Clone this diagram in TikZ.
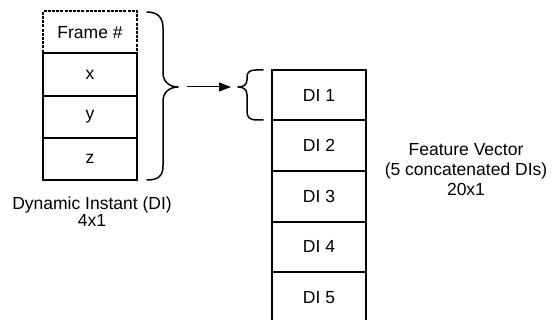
\documentclass[tikz,border=0pt]{standalone}
\usepackage{fontspec}
\setmainfont{Liberation Sans}
\usetikzlibrary{arrows.meta}
\begin{document}
\begin{tikzpicture}[x=1pt,y=-1pt,
  cell/.style={draw, line width=2pt, minimum width=94pt, inner sep=0pt, font=\fontsize{17.5}{20}\selectfont},
  lcell/.style={cell, minimum height=42.3pt},
  rcell/.style={cell, minimum height=50.5pt},
  brace/.style={draw, line width=1.5pt, line cap=round, line join=round},
  lbl/.style={align=center, inner sep=0pt, anchor=north}]
\useasboundingbox (0,0) rectangle (553,320);
% left stack
\node[lcell, dash pattern=on 3pt off 1.2pt] (frame) at (90,32.2) {Frame \#};
\node[lcell] (x) at (90,74.5) {x};
\node[lcell] (y) at (90,116.8) {y};
\node[lcell] (z) at (90,159.1) {z};
% right stack
\node[rcell] (d1) at (319,95.25) {DI 1};
\node[rcell] (d2) at (319,145.75) {DI 2};
\node[rcell] (d3) at (319,196.25) {DI 3};
\node[rcell] (d4) at (319,246.75) {DI 4};
\node[rcell] (d5) at (319,297.25) {DI 5};
% braces
\draw[brace] (147,12) .. controls (158,12) and (163,18) .. (163,28) -- (163,73)
  .. controls (163,82) and (170,87) .. (178,87)
  .. controls (170,87) and (163,92) .. (163,101) -- (163,166)
  .. controls (163,176) and (158,180) .. (147,180);
\draw[brace] (263,70) -- (256,70) .. controls (250,70) and (247,72) .. (247,77) -- (247,80)
  .. controls (247,85) and (243,87) .. (238,87)
  .. controls (243,87) and (247,89) .. (247,95) -- (247,112)
  .. controls (247,117) and (250,120) .. (256,120) -- (263,120);
% arrow
\coordinate (a1) at (187,87);
\coordinate (a2) at (231,87);
\draw[line width=1pt, -{Triangle[length=12pt,width=9pt]}] (a1) -- (a2);
% labels
\node[lbl, font=\fontsize{17.5}{17}\selectfont] (dilabel) at (92,197) {Dynamic Instant (DI)\\4x1};
\node[lbl, font=\fontsize{17.5}{20}\selectfont] (fvlabel) at (466,143) {Feature Vector\\(5 concatenated DIs)\\20x1};
\end{tikzpicture}
\end{document}
